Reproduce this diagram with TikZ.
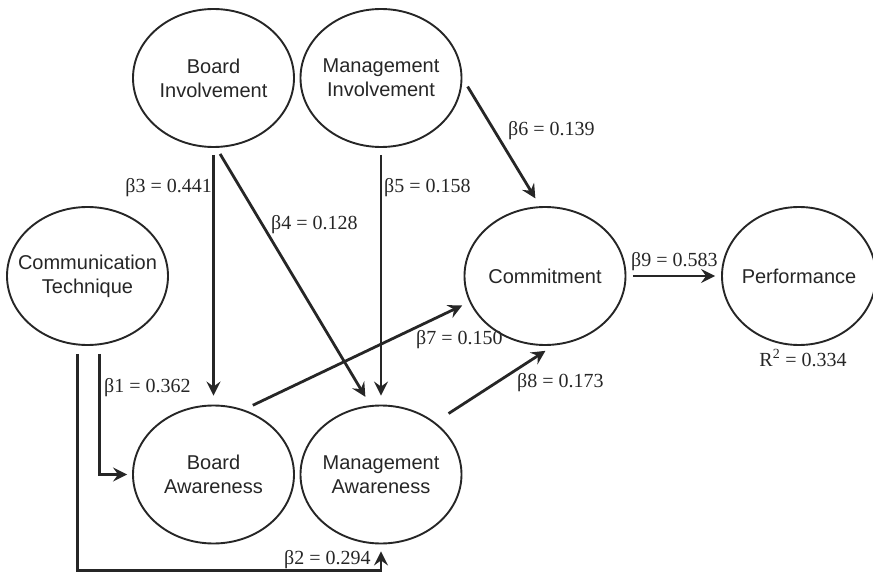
\documentclass[tikz,border=0pt]{standalone}
\usepackage{fontspec}
\setmainfont{Liberation Serif}
\setsansfont{Liberation Sans}
\usetikzlibrary{shapes.geometric,arrows.meta}

\begin{document}
\begin{tikzpicture}[x=1pt,y=-1pt,
		construct/.style={ellipse,draw=black!85,line width=1.9pt,
			minimum width=161pt,minimum height=138pt,inner sep=0pt,
			label={[font=\sffamily\fontsize{20}{24}\selectfont,text=black!85,align=center]center:#1}},
		link/.style={-{Stealth[length=14pt,width=14pt,inset=5pt]},line width=2.8pt,draw=black!85},
		coef/.style={font=\fontsize{20}{22}\selectfont,text=black!85,inner sep=0pt}]
		
		\useasboundingbox (0,0) rectangle (873,572);
		
		% the constructs
		\node[construct={Board\\Involvement}] (BI) at (213.5,78) {};
		\node[construct={Management\\Involvement}] (MI) at (381,78) {};
		\node[construct={Communication\\Technique}] (CT) at (87.5,276) {};
		\node[construct={Commitment}] (CO) at (545,276) {};
		\node[construct={Performance},minimum width=154pt] (PE) at (799,276) {};
		\node[construct={Board\\Awareness}] (BA) at (213.5,474.5) {};
		\node[construct={Management\\Awareness}] (MA) at (381,474.5) {};
		
		\coordinate (b2turn) at ([yshift=-26pt]MA.south);
		
		% paths
		\draw[link,shorten <=7pt,shorten >=9pt] (BI.south) -- (BA.north);
		\draw[link,shorten <=7pt,shorten >=9pt] ([xshift=3pt]BI.south) -- ([xshift=-11pt]MA.north);
		\draw[link,shorten <=7pt,shorten >=9pt] (MI.south) -- (MA.north);
		\draw[link,shorten <=10pt,shorten >=9pt] (MI.east) -- ([xshift=-5pt]CO.north);
		\draw[link,shorten <=10pt,shorten >=8pt] (BA.65) -- (CO.199);
		\draw[link,shorten <=16pt,shorten >=9pt] (MA.44) -- ([xshift=8pt]CO.south);
		\draw[link,shorten <=6.5pt,shorten >=6pt] (CO.east) -- (PE.west);
		\draw[link,shorten <=8pt,shorten >=5pt] ([xshift=12pt]CT.south) |- (BA.west);
		\draw[link,shorten <=8pt,shorten >=7pt] ([xshift=-10pt]CT.south) |- (b2turn) -- (MA.south);
		
		% coefficients
		\node[coef,anchor=east] (b3) at (212,188) {β3 = 0.441};
		\node[coef,anchor=west] (b4) at (271,225) {β4 = 0.128};
		\node[coef,anchor=west] (b5) at (384,188) {β5 = 0.158};
		\node[coef,anchor=west] (b6) at (508,131) {β6 = 0.139};
		\node[coef,anchor=west] (b7) at (416,340) {β7 = 0.150};
		\node[coef,anchor=west] (b8) at (517,383) {β8 = 0.173};
		\node[coef,anchor=west] (b9) at (631,262) {β9 = 0.583};
		\node[coef,anchor=west] (b1) at (104,388) {β1 = 0.362};
		\node[coef,anchor=west] (b2) at (284,560) {β2 = 0.294};
		\node[coef] (r2) at (803,358) {R\textsuperscript{2} = 0.334};
		
\end{tikzpicture}
\end{document}
